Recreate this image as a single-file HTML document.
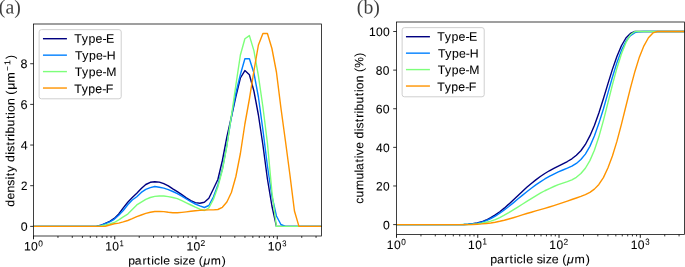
<!DOCTYPE html>
<html><head><meta charset="utf-8"><style>
html,body{margin:0;padding:0;background:#fff;overflow:hidden;}
svg{display:block;}
text{fill:#000;}
</style></head><body>
<svg width="685" height="267" viewBox="0 0 685 267">
<defs><clipPath id="ca"><rect x="33.5" y="24" width="288" height="212"/></clipPath><clipPath id="cb"><rect x="396.5" y="22" width="288" height="212.5"/></clipPath></defs>
<rect width="685" height="267" fill="#fff"/>
<line x1="33.50" y1="236.00" x2="33.50" y2="239.30" stroke="#000" stroke-width="0.90"/>
<line x1="57.96" y1="236.00" x2="57.96" y2="237.90" stroke="#000" stroke-width="0.80"/>
<line x1="72.27" y1="236.00" x2="72.27" y2="237.90" stroke="#000" stroke-width="0.80"/>
<line x1="82.42" y1="236.00" x2="82.42" y2="237.90" stroke="#000" stroke-width="0.80"/>
<line x1="90.30" y1="236.00" x2="90.30" y2="237.90" stroke="#000" stroke-width="0.80"/>
<line x1="96.73" y1="236.00" x2="96.73" y2="237.90" stroke="#000" stroke-width="0.80"/>
<line x1="102.17" y1="236.00" x2="102.17" y2="237.90" stroke="#000" stroke-width="0.80"/>
<line x1="106.89" y1="236.00" x2="106.89" y2="237.90" stroke="#000" stroke-width="0.80"/>
<line x1="111.04" y1="236.00" x2="111.04" y2="237.90" stroke="#000" stroke-width="0.80"/>
<line x1="114.76" y1="236.00" x2="114.76" y2="239.30" stroke="#000" stroke-width="0.90"/>
<line x1="139.23" y1="236.00" x2="139.23" y2="237.90" stroke="#000" stroke-width="0.80"/>
<line x1="153.53" y1="236.00" x2="153.53" y2="237.90" stroke="#000" stroke-width="0.80"/>
<line x1="163.69" y1="236.00" x2="163.69" y2="237.90" stroke="#000" stroke-width="0.80"/>
<line x1="171.56" y1="236.00" x2="171.56" y2="237.90" stroke="#000" stroke-width="0.80"/>
<line x1="178.00" y1="236.00" x2="178.00" y2="237.90" stroke="#000" stroke-width="0.80"/>
<line x1="183.44" y1="236.00" x2="183.44" y2="237.90" stroke="#000" stroke-width="0.80"/>
<line x1="188.15" y1="236.00" x2="188.15" y2="237.90" stroke="#000" stroke-width="0.80"/>
<line x1="192.31" y1="236.00" x2="192.31" y2="237.90" stroke="#000" stroke-width="0.80"/>
<line x1="196.03" y1="236.00" x2="196.03" y2="239.30" stroke="#000" stroke-width="0.90"/>
<line x1="220.49" y1="236.00" x2="220.49" y2="237.90" stroke="#000" stroke-width="0.80"/>
<line x1="234.80" y1="236.00" x2="234.80" y2="237.90" stroke="#000" stroke-width="0.80"/>
<line x1="244.95" y1="236.00" x2="244.95" y2="237.90" stroke="#000" stroke-width="0.80"/>
<line x1="252.83" y1="236.00" x2="252.83" y2="237.90" stroke="#000" stroke-width="0.80"/>
<line x1="259.26" y1="236.00" x2="259.26" y2="237.90" stroke="#000" stroke-width="0.80"/>
<line x1="264.70" y1="236.00" x2="264.70" y2="237.90" stroke="#000" stroke-width="0.80"/>
<line x1="269.41" y1="236.00" x2="269.41" y2="237.90" stroke="#000" stroke-width="0.80"/>
<line x1="273.57" y1="236.00" x2="273.57" y2="237.90" stroke="#000" stroke-width="0.80"/>
<line x1="277.29" y1="236.00" x2="277.29" y2="239.30" stroke="#000" stroke-width="0.90"/>
<line x1="301.75" y1="236.00" x2="301.75" y2="237.90" stroke="#000" stroke-width="0.80"/>
<line x1="316.06" y1="236.00" x2="316.06" y2="237.90" stroke="#000" stroke-width="0.80"/>
<line x1="30.20" y1="226.36" x2="33.50" y2="226.36" stroke="#000" stroke-width="0.80"/>
<line x1="30.20" y1="185.70" x2="33.50" y2="185.70" stroke="#000" stroke-width="0.80"/>
<line x1="30.20" y1="145.04" x2="33.50" y2="145.04" stroke="#000" stroke-width="0.80"/>
<line x1="30.20" y1="104.38" x2="33.50" y2="104.38" stroke="#000" stroke-width="0.80"/>
<line x1="30.20" y1="63.72" x2="33.50" y2="63.72" stroke="#000" stroke-width="0.80"/>
<line x1="396.50" y1="234.50" x2="396.50" y2="237.80" stroke="#000" stroke-width="0.90"/>
<line x1="420.96" y1="234.50" x2="420.96" y2="236.40" stroke="#000" stroke-width="0.80"/>
<line x1="435.27" y1="234.50" x2="435.27" y2="236.40" stroke="#000" stroke-width="0.80"/>
<line x1="445.42" y1="234.50" x2="445.42" y2="236.40" stroke="#000" stroke-width="0.80"/>
<line x1="453.30" y1="234.50" x2="453.30" y2="236.40" stroke="#000" stroke-width="0.80"/>
<line x1="459.73" y1="234.50" x2="459.73" y2="236.40" stroke="#000" stroke-width="0.80"/>
<line x1="465.17" y1="234.50" x2="465.17" y2="236.40" stroke="#000" stroke-width="0.80"/>
<line x1="469.89" y1="234.50" x2="469.89" y2="236.40" stroke="#000" stroke-width="0.80"/>
<line x1="474.04" y1="234.50" x2="474.04" y2="236.40" stroke="#000" stroke-width="0.80"/>
<line x1="477.76" y1="234.50" x2="477.76" y2="237.80" stroke="#000" stroke-width="0.90"/>
<line x1="502.23" y1="234.50" x2="502.23" y2="236.40" stroke="#000" stroke-width="0.80"/>
<line x1="516.53" y1="234.50" x2="516.53" y2="236.40" stroke="#000" stroke-width="0.80"/>
<line x1="526.69" y1="234.50" x2="526.69" y2="236.40" stroke="#000" stroke-width="0.80"/>
<line x1="534.56" y1="234.50" x2="534.56" y2="236.40" stroke="#000" stroke-width="0.80"/>
<line x1="541.00" y1="234.50" x2="541.00" y2="236.40" stroke="#000" stroke-width="0.80"/>
<line x1="546.44" y1="234.50" x2="546.44" y2="236.40" stroke="#000" stroke-width="0.80"/>
<line x1="551.15" y1="234.50" x2="551.15" y2="236.40" stroke="#000" stroke-width="0.80"/>
<line x1="555.31" y1="234.50" x2="555.31" y2="236.40" stroke="#000" stroke-width="0.80"/>
<line x1="559.03" y1="234.50" x2="559.03" y2="237.80" stroke="#000" stroke-width="0.90"/>
<line x1="583.49" y1="234.50" x2="583.49" y2="236.40" stroke="#000" stroke-width="0.80"/>
<line x1="597.80" y1="234.50" x2="597.80" y2="236.40" stroke="#000" stroke-width="0.80"/>
<line x1="607.95" y1="234.50" x2="607.95" y2="236.40" stroke="#000" stroke-width="0.80"/>
<line x1="615.83" y1="234.50" x2="615.83" y2="236.40" stroke="#000" stroke-width="0.80"/>
<line x1="622.26" y1="234.50" x2="622.26" y2="236.40" stroke="#000" stroke-width="0.80"/>
<line x1="627.70" y1="234.50" x2="627.70" y2="236.40" stroke="#000" stroke-width="0.80"/>
<line x1="632.41" y1="234.50" x2="632.41" y2="236.40" stroke="#000" stroke-width="0.80"/>
<line x1="636.57" y1="234.50" x2="636.57" y2="236.40" stroke="#000" stroke-width="0.80"/>
<line x1="640.29" y1="234.50" x2="640.29" y2="237.80" stroke="#000" stroke-width="0.90"/>
<line x1="664.75" y1="234.50" x2="664.75" y2="236.40" stroke="#000" stroke-width="0.80"/>
<line x1="679.06" y1="234.50" x2="679.06" y2="236.40" stroke="#000" stroke-width="0.80"/>
<line x1="393.20" y1="224.60" x2="396.50" y2="224.60" stroke="#000" stroke-width="0.80"/>
<line x1="393.20" y1="185.98" x2="396.50" y2="185.98" stroke="#000" stroke-width="0.80"/>
<line x1="393.20" y1="147.36" x2="396.50" y2="147.36" stroke="#000" stroke-width="0.80"/>
<line x1="393.20" y1="108.74" x2="396.50" y2="108.74" stroke="#000" stroke-width="0.80"/>
<line x1="393.20" y1="70.12" x2="396.50" y2="70.12" stroke="#000" stroke-width="0.80"/>
<line x1="393.20" y1="31.50" x2="396.50" y2="31.50" stroke="#000" stroke-width="0.80"/>
<g clip-path="url(#ca)">
<path d="M20.00,226.36 L96.23,226.36 L100.73,225.30 L105.24,223.30 L109.74,221.40 L114.25,218.40 L118.75,214.00 L123.26,207.90 L127.76,202.30 L132.27,197.50 L136.78,193.20 L141.28,188.50 L145.78,184.50 L150.29,182.30 L154.79,181.70 L159.30,182.10 L163.80,183.70 L168.31,185.80 L172.81,188.80 L177.32,191.60 L181.82,194.70 L186.33,197.80 L190.84,200.60 L195.34,202.60 L199.84,203.20 L204.35,202.30 L208.85,198.30 L213.36,189.00 L217.86,179.50 L222.37,160.50 L226.87,137.00 L231.38,117.00 L235.88,96.50 L240.39,78.00 L244.89,70.60 L249.40,74.70 L253.91,91.00 L258.41,115.00 L262.91,145.00 L267.42,179.00 L271.92,206.00 L276.43,226.36 L330.00,226.36" fill="none" stroke="#000080" stroke-width="1.41" stroke-linejoin="round"/>
<path d="M20.00,226.36 L96.23,226.36 L100.73,225.40 L105.24,223.60 L109.74,221.90 L114.25,219.30 L118.75,215.30 L123.26,210.50 L127.76,204.70 L132.27,200.00 L136.78,196.70 L141.28,192.40 L145.78,189.40 L150.29,187.60 L154.79,186.50 L159.30,187.30 L163.80,188.10 L168.31,189.60 L172.81,191.50 L177.32,193.60 L181.82,196.20 L186.33,199.00 L190.84,201.70 L195.34,204.00 L199.84,205.90 L204.35,207.50 L208.85,205.50 L213.36,197.00 L217.86,185.00 L222.37,169.00 L226.87,145.00 L231.38,117.00 L235.88,93.00 L240.39,74.50 L244.89,58.80 L249.40,58.80 L253.91,73.00 L258.41,97.00 L262.91,130.00 L267.42,166.00 L271.92,196.00 L276.43,216.00 L280.93,224.50 L285.44,226.36 L330.00,226.36" fill="none" stroke="#0080ff" stroke-width="1.41" stroke-linejoin="round"/>
<path d="M20.00,226.36 L96.23,226.36 L100.73,225.90 L105.24,225.00 L109.74,223.90 L114.25,222.50 L118.75,219.80 L123.26,216.80 L127.76,214.10 L132.27,209.50 L136.78,204.90 L141.28,202.10 L145.78,199.30 L150.29,197.50 L154.79,196.40 L159.30,196.00 L163.80,196.00 L168.31,196.60 L172.81,197.50 L177.32,198.60 L181.82,200.70 L186.33,202.90 L190.84,205.00 L195.34,207.20 L199.84,209.20 L204.35,210.50 L208.85,208.00 L213.36,199.50 L217.86,187.00 L222.37,170.00 L226.87,146.00 L231.38,116.00 L235.88,85.00 L240.39,55.00 L244.89,38.80 L249.40,35.60 L253.91,50.60 L258.41,75.80 L262.91,107.00 L267.42,143.00 L271.92,192.00 L276.43,226.36 L330.00,226.36" fill="none" stroke="#7dff7a" stroke-width="1.41" stroke-linejoin="round"/>
<path d="M20.00,226.36 L100.73,226.36 L105.24,226.20 L109.74,225.00 L114.25,223.80 L118.75,223.10 L123.26,221.90 L127.76,220.50 L132.27,218.70 L136.78,216.70 L141.28,215.00 L145.78,213.40 L150.29,212.30 L154.79,211.50 L159.30,211.40 L163.80,211.60 L168.31,212.30 L172.81,212.70 L177.32,212.80 L181.82,212.40 L186.33,211.90 L190.84,211.30 L195.34,210.80 L199.84,210.40 L204.35,210.10 L208.85,209.90 L213.36,209.90 L217.86,209.50 L222.37,207.30 L226.87,202.00 L231.38,192.50 L235.88,176.50 L240.39,153.50 L244.89,124.00 L249.40,99.00 L253.91,71.00 L258.41,45.00 L262.91,33.50 L267.42,33.50 L271.92,48.50 L276.43,72.00 L280.93,108.00 L285.44,141.00 L289.94,175.00 L294.45,211.00 L298.95,226.36 L330.00,226.36" fill="none" stroke="#ff9400" stroke-width="1.41" stroke-linejoin="round"/>
</g>
<g clip-path="url(#cb)">
<path d="M380.00,224.60 L459.23,224.60 L463.74,224.50 L468.24,224.21 L472.75,223.73 L477.25,222.97 L481.75,221.79 L486.26,220.02 L490.76,217.72 L495.27,214.95 L499.77,211.78 L504.28,208.16 L508.78,204.15 L513.29,199.93 L517.79,195.66 L522.30,191.42 L526.80,187.34 L531.31,183.46 L535.81,179.86 L540.32,176.53 L544.82,173.50 L549.33,170.77 L553.84,168.30 L558.34,166.03 L562.85,163.81 L567.35,161.51 L571.86,158.82 L576.36,155.25 L580.87,150.76 L585.37,144.46 L589.88,135.91 L594.38,125.44 L598.88,113.01 L603.39,98.81 L607.89,83.90 L612.40,69.38 L616.90,56.43 L621.41,45.77 L625.91,37.98 L630.42,33.45 L634.92,31.50 L639.43,31.50 L700.00,31.50" fill="none" stroke="#000080" stroke-width="1.41" stroke-linejoin="round"/>
<path d="M380.00,224.60 L459.23,224.60 L463.74,224.51 L468.24,224.25 L472.75,223.82 L477.25,223.16 L481.75,222.11 L486.26,220.60 L490.76,218.55 L495.27,216.05 L499.77,213.24 L504.28,210.02 L508.78,206.52 L513.29,202.84 L517.79,199.06 L522.30,195.36 L526.80,191.73 L531.31,188.25 L535.81,184.94 L540.32,181.84 L544.82,178.98 L549.33,176.39 L553.84,174.05 L558.34,171.93 L562.85,169.99 L567.35,168.20 L571.86,166.22 L576.36,163.44 L580.87,159.52 L585.37,154.08 L589.88,146.37 L594.38,136.00 L598.88,123.36 L603.39,108.96 L607.89,93.08 L612.40,77.19 L616.90,62.66 L621.41,50.39 L625.91,41.26 L630.42,35.54 L634.92,32.66 L639.43,31.68 L643.93,31.50 L648.44,31.50 L700.00,31.50" fill="none" stroke="#0080ff" stroke-width="1.41" stroke-linejoin="round"/>
<path d="M380.00,224.60 L459.23,224.60 L463.74,224.56 L468.24,224.43 L472.75,224.20 L477.25,223.83 L481.75,223.21 L486.26,222.30 L490.76,221.14 L495.27,219.55 L499.77,217.52 L504.28,215.22 L508.78,212.66 L513.29,209.93 L517.79,207.10 L522.30,204.22 L526.80,201.35 L531.31,198.54 L535.81,195.81 L540.32,193.18 L544.82,190.75 L549.33,188.53 L553.84,186.51 L558.34,184.70 L562.85,183.07 L567.35,181.57 L571.86,179.84 L576.36,177.29 L580.87,173.57 L585.37,168.24 L589.88,160.63 L594.38,150.19 L598.88,136.82 L603.39,120.60 L607.89,102.86 L612.40,84.81 L616.90,68.18 L621.41,53.93 L625.91,42.64 L630.42,34.75 L634.92,31.50 L639.43,31.50 L700.00,31.50" fill="none" stroke="#7dff7a" stroke-width="1.41" stroke-linejoin="round"/>
<path d="M380.00,224.60 L463.74,224.60 L468.24,224.58 L472.75,224.46 L477.25,224.22 L481.75,223.91 L486.26,223.49 L490.76,222.94 L495.27,222.22 L499.77,221.31 L504.28,220.25 L508.78,219.03 L513.29,217.71 L517.79,216.31 L522.30,214.90 L526.80,213.52 L531.31,212.20 L535.81,210.91 L540.32,209.64 L544.82,208.33 L549.33,206.97 L553.84,205.55 L558.34,204.09 L562.85,202.59 L567.35,201.06 L571.86,199.52 L576.36,197.97 L580.87,196.39 L585.37,194.60 L589.88,192.31 L594.38,189.13 L598.88,184.44 L603.39,177.59 L607.89,167.98 L612.40,156.01 L616.90,141.41 L621.41,124.37 L625.91,106.25 L630.42,88.13 L634.92,71.42 L639.43,56.91 L643.93,45.79 L648.44,37.77 L652.94,32.94 L657.45,31.50 L661.95,31.50 L700.00,31.50" fill="none" stroke="#ff9400" stroke-width="1.41" stroke-linejoin="round"/>
</g>
<rect x="33.50" y="24.00" width="288.00" height="212.00" fill="none" stroke="#000" stroke-width="0.75"/>
<rect x="396.50" y="22.00" width="288.00" height="212.50" fill="none" stroke="#000" stroke-width="0.75"/>
<rect x="39.14" y="29.64" width="82.08" height="69.15" rx="2.26" fill="#fff" fill-opacity="0.8" stroke="#cccccc" stroke-width="0.94"/>
<line x1="43.66" y1="38.71" x2="66.22" y2="38.71" stroke="#000080" stroke-width="1.41" stroke-linecap="square"/>
<line x1="43.66" y1="55.15" x2="66.22" y2="55.15" stroke="#0080ff" stroke-width="1.41" stroke-linecap="square"/>
<line x1="43.66" y1="71.59" x2="66.22" y2="71.59" stroke="#7dff7a" stroke-width="1.41" stroke-linecap="square"/>
<line x1="43.66" y1="88.03" x2="66.22" y2="88.03" stroke="#ff9400" stroke-width="1.41" stroke-linecap="square"/>
<rect x="402.14" y="27.64" width="82.08" height="69.15" rx="2.26" fill="#fff" fill-opacity="0.8" stroke="#cccccc" stroke-width="0.94"/>
<line x1="406.65" y1="36.71" x2="429.22" y2="36.71" stroke="#000080" stroke-width="1.41" stroke-linecap="square"/>
<line x1="406.65" y1="53.15" x2="429.22" y2="53.15" stroke="#0080ff" stroke-width="1.41" stroke-linecap="square"/>
<line x1="406.65" y1="69.59" x2="429.22" y2="69.59" stroke="#7dff7a" stroke-width="1.41" stroke-linecap="square"/>
<line x1="406.65" y1="86.03" x2="429.22" y2="86.03" stroke="#ff9400" stroke-width="1.41" stroke-linecap="square"/>
<g style="filter:grayscale(1)" transform="translate(20.500,230.655) scale(1.0053,0.9859) skewY(0.03)"><text x="0" y="0" style="font-family:'Liberation Sans',sans-serif;stroke:#000;stroke-width:0.08px;font-size:12.30px"><tspan x="0.17" y="0.00">0</tspan></text></g>
<g style="filter:grayscale(1)" transform="translate(20.934,190.073) scale(0.9362,0.9899) skewY(0.03)"><text x="0" y="0" style="font-family:'Liberation Sans',sans-serif;stroke:#000;stroke-width:0.08px;font-size:12.30px"><tspan x="0.02" y="0.00">2</tspan></text></g>
<g style="filter:grayscale(1)" transform="translate(20.523,149.428) scale(1.0062,0.9886) skewY(0.03)"><text x="0" y="0" style="font-family:'Liberation Sans',sans-serif;stroke:#000;stroke-width:0.08px;font-size:12.30px"><tspan x="0.17" y="0.00">4</tspan></text></g>
<g style="filter:grayscale(1)" transform="translate(20.428,108.880) scale(1.0392,1.0313) skewY(0.03)"><text x="0" y="0" style="font-family:'Liberation Sans',sans-serif;stroke:#000;stroke-width:0.08px;font-size:12.30px"><tspan x="0.17" y="0.00">6</tspan></text></g>
<g style="filter:grayscale(1)" transform="translate(20.404,68.119) scale(1.0153,1.0019) skewY(0.03)"><text x="0" y="0" style="font-family:'Liberation Sans',sans-serif;stroke:#000;stroke-width:0.08px;font-size:12.30px"><tspan x="0.17" y="0.00">8</tspan></text></g>
<g style="filter:grayscale(1)" transform="translate(382.774,229.145) scale(0.9919,0.9906) skewY(0.03)"><text x="0" y="0" style="font-family:'Liberation Sans',sans-serif;stroke:#000;stroke-width:0.08px;font-size:12.30px"><tspan x="0.17" y="0.00">0</tspan></text></g>
<g style="filter:grayscale(1)" transform="translate(375.981,190.509) scale(0.9700,0.9916) skewY(0.03)"><text x="0" y="0" style="font-family:'Liberation Sans',sans-serif;stroke:#000;stroke-width:0.08px;font-size:12.30px"><tspan x="0.02" y="0.00">2</tspan><tspan x="7.34" y="0.00">0</tspan></text></g>
<g style="filter:grayscale(1)" transform="translate(375.796,151.990) scale(0.9734,0.9893) skewY(0.03)"><text x="0" y="0" style="font-family:'Liberation Sans',sans-serif;stroke:#000;stroke-width:0.08px;font-size:12.30px"><tspan x="0.17" y="0.00">4</tspan><tspan x="7.34" y="0.00">0</tspan></text></g>
<g style="filter:grayscale(1)" transform="translate(375.553,113.212) scale(0.9980,0.9928) skewY(0.03)"><text x="0" y="0" style="font-family:'Liberation Sans',sans-serif;stroke:#000;stroke-width:0.08px;font-size:12.30px"><tspan x="0.17" y="0.00">6</tspan><tspan x="7.34" y="0.00">0</tspan></text></g>
<g style="filter:grayscale(1)" transform="translate(375.682,74.661) scale(0.9750,1.0022) skewY(0.03)"><text x="0" y="0" style="font-family:'Liberation Sans',sans-serif;stroke:#000;stroke-width:0.08px;font-size:12.30px"><tspan x="0.17" y="0.00">8</tspan><tspan x="7.34" y="0.00">0</tspan></text></g>
<g style="filter:grayscale(1)" transform="translate(368.795,36.061) scale(0.9820,0.9935) skewY(0.03)"><text x="0" y="0" style="font-family:'Liberation Sans',sans-serif;stroke:#000;stroke-width:0.08px;font-size:12.30px"><tspan x="0.10" y="0.00">1</tspan><tspan x="7.34" y="0.00">0</tspan><tspan x="14.52" y="0.00">0</tspan></text></g>
<g style="filter:grayscale(1)" transform="translate(23.818,250.544) scale(0.9886,0.9951) skewY(0.03)"><text x="0" y="0" style="font-family:'Liberation Sans',sans-serif;stroke:#000;stroke-width:0.08px;font-size:12.30px"><tspan x="0.10" y="0.00">1</tspan><tspan x="7.34" y="0.00">0</tspan></text></g>
<g style="filter:grayscale(1)" transform="translate(38.159,246.412) scale(0.9701,0.9843) skewY(0.03)"><text x="0" y="0" style="font-family:'Liberation Sans',sans-serif;stroke:#000;stroke-width:0.08px;font-size:8.61px">0</text></g>
<g style="filter:grayscale(1)" transform="translate(105.158,250.453) scale(0.9788,1.0058) skewY(0.03)"><text x="0" y="0" style="font-family:'Liberation Sans',sans-serif;stroke:#000;stroke-width:0.08px;font-size:12.30px"><tspan x="0.10" y="0.00">1</tspan><tspan x="7.34" y="0.00">0</tspan></text></g>
<g style="filter:grayscale(1)" transform="translate(119.757,246.168) scale(0.8030,0.9892) skewY(0.03)"><text x="0" y="0" style="font-family:'Liberation Sans',sans-serif;stroke:#000;stroke-width:0.08px;font-size:8.61px">1</text></g>
<g style="filter:grayscale(1)" transform="translate(186.359,250.470) scale(0.9833,0.9919) skewY(0.03)"><text x="0" y="0" style="font-family:'Liberation Sans',sans-serif;stroke:#000;stroke-width:0.08px;font-size:12.30px"><tspan x="0.10" y="0.00">1</tspan><tspan x="7.34" y="0.00">0</tspan></text></g>
<g style="filter:grayscale(1)" transform="translate(200.578,246.061) scale(0.9871,0.9901) skewY(0.03)"><text x="0" y="0" style="font-family:'Liberation Sans',sans-serif;stroke:#000;stroke-width:0.08px;font-size:8.61px">2</text></g>
<g style="filter:grayscale(1)" transform="translate(267.579,250.592) scale(0.9901,0.9919) skewY(0.03)"><text x="0" y="0" style="font-family:'Liberation Sans',sans-serif;stroke:#000;stroke-width:0.08px;font-size:12.30px"><tspan x="0.10" y="0.00">1</tspan><tspan x="7.34" y="0.00">0</tspan></text></g>
<g style="filter:grayscale(1)" transform="translate(282.352,246.220) scale(0.8814,0.9782) skewY(0.03)"><text x="0" y="0" style="font-family:'Liberation Sans',sans-serif;stroke:#000;stroke-width:0.08px;font-size:8.61px">3</text></g>
<g style="filter:grayscale(1)" transform="translate(386.718,248.928) scale(0.9855,0.9967) skewY(0.03)"><text x="0" y="0" style="font-family:'Liberation Sans',sans-serif;stroke:#000;stroke-width:0.08px;font-size:12.30px"><tspan x="0.10" y="0.00">1</tspan><tspan x="7.34" y="0.00">0</tspan></text></g>
<g style="filter:grayscale(1)" transform="translate(401.208,245.078) scale(0.9547,1.0412) skewY(0.03)"><text x="0" y="0" style="font-family:'Liberation Sans',sans-serif;stroke:#000;stroke-width:0.08px;font-size:8.61px">0</text></g>
<g style="filter:grayscale(1)" transform="translate(468.002,249.116) scale(0.9746,0.9896) skewY(0.03)"><text x="0" y="0" style="font-family:'Liberation Sans',sans-serif;stroke:#000;stroke-width:0.08px;font-size:12.30px"><tspan x="0.10" y="0.00">1</tspan><tspan x="7.34" y="0.00">0</tspan></text></g>
<g style="filter:grayscale(1)" transform="translate(482.521,244.556) scale(0.9174,1.0540) skewY(0.03)"><text x="0" y="0" style="font-family:'Liberation Sans',sans-serif;stroke:#000;stroke-width:0.08px;font-size:8.61px">1</text></g>
<g style="filter:grayscale(1)" transform="translate(549.282,249.051) scale(0.9769,1.0064) skewY(0.03)"><text x="0" y="0" style="font-family:'Liberation Sans',sans-serif;stroke:#000;stroke-width:0.08px;font-size:12.30px"><tspan x="0.10" y="0.00">1</tspan><tspan x="7.34" y="0.00">0</tspan></text></g>
<g style="filter:grayscale(1)" transform="translate(563.541,244.683) scale(0.9789,0.9857) skewY(0.03)"><text x="0" y="0" style="font-family:'Liberation Sans',sans-serif;stroke:#000;stroke-width:0.08px;font-size:8.61px">2</text></g>
<g style="filter:grayscale(1)" transform="translate(630.557,249.101) scale(0.9864,1.0048) skewY(0.03)"><text x="0" y="0" style="font-family:'Liberation Sans',sans-serif;stroke:#000;stroke-width:0.08px;font-size:12.30px"><tspan x="0.10" y="0.00">1</tspan><tspan x="7.34" y="0.00">0</tspan></text></g>
<g style="filter:grayscale(1)" transform="translate(645.198,244.810) scale(0.9103,1.0241) skewY(0.03)"><text x="0" y="0" style="font-family:'Liberation Sans',sans-serif;stroke:#000;stroke-width:0.08px;font-size:8.61px">3</text></g>
<g style="filter:grayscale(1)" transform="translate(128.028,264.419) scale(0.9900,0.9281) skewY(0.03)"><text x="0" y="0" style="font-family:'Liberation Sans',sans-serif;stroke:#000;stroke-width:0.08px;font-size:12.30px"><tspan x="0.23" y="0.00">p</tspan><tspan x="6.76" y="0.00">a</tspan><tspan x="14.55" y="0.00">r</tspan><tspan x="19.19" y="0.00">t</tspan><tspan x="23.35" y="0.00">i</tspan><tspan x="26.16" y="0.00">c</tspan><tspan x="32.68" y="0.00">l</tspan><tspan x="35.69" y="0.00">e</tspan><tspan x="42.64" y="0.00"> </tspan><tspan x="46.09" y="0.00">s</tspan><tspan x="52.23" y="0.00">i</tspan><tspan x="55.10" y="0.00">z</tspan><tspan x="61.15" y="0.00">e</tspan><tspan x="68.10" y="0.00"> </tspan><tspan x="71.44" y="0.00">(</tspan><tspan x="76.13" y="0.00" style="font-style:italic;">μ</tspan><tspan x="83.59" y="0.00">m</tspan><tspan x="94.64" y="0.00">)</tspan></text></g>
<g style="filter:grayscale(1)" transform="translate(490.102,263.205) scale(1.0101,0.9758) skewY(0.03)"><text x="0" y="0" style="font-family:'Liberation Sans',sans-serif;stroke:#000;stroke-width:0.08px;font-size:12.30px"><tspan x="0.23" y="0.00">p</tspan><tspan x="6.76" y="0.00">a</tspan><tspan x="14.55" y="0.00">r</tspan><tspan x="19.19" y="0.00">t</tspan><tspan x="23.35" y="0.00">i</tspan><tspan x="26.16" y="0.00">c</tspan><tspan x="32.68" y="0.00">l</tspan><tspan x="35.69" y="0.00">e</tspan><tspan x="42.64" y="0.00"> </tspan><tspan x="46.09" y="0.00">s</tspan><tspan x="52.23" y="0.00">i</tspan><tspan x="55.10" y="0.00">z</tspan><tspan x="61.15" y="0.00">e</tspan><tspan x="68.10" y="0.00"> </tspan><tspan x="71.44" y="0.00">(</tspan><tspan x="76.13" y="0.00" style="font-style:italic;">μ</tspan><tspan x="83.59" y="0.00">m</tspan><tspan x="94.64" y="0.00">)</tspan></text></g>
<g style="filter:grayscale(1)" transform="translate(14.331,206.819) rotate(-90) scale(0.9957,0.9787) skewY(0.03)"><text x="0" y="0" style="font-family:'Liberation Sans',sans-serif;stroke:#000;stroke-width:0.08px;font-size:12.30px"><tspan x="0.10" y="0.00">d</tspan><tspan x="7.24" y="0.00">e</tspan><tspan x="14.28" y="0.00">n</tspan><tspan x="21.20" y="0.00">s</tspan><tspan x="27.34" y="0.00">i</tspan><tspan x="30.74" y="0.00">t</tspan><tspan x="34.95" y="0.00">y</tspan><tspan x="41.45" y="0.00"> </tspan><tspan x="45.05" y="0.00">d</tspan><tspan x="52.32" y="0.00">i</tspan><tspan x="55.20" y="0.00">s</tspan><tspan x="61.60" y="0.00">t</tspan><tspan x="66.03" y="0.00">r</tspan><tspan x="70.40" y="0.00">i</tspan><tspan x="73.55" y="0.00">b</tspan><tspan x="80.62" y="0.00">u</tspan><tspan x="88.11" y="0.00">t</tspan><tspan x="92.27" y="0.00">i</tspan><tspan x="95.23" y="0.00">o</tspan><tspan x="102.28" y="0.00">n</tspan><tspan x="109.34" y="0.00"> </tspan><tspan x="112.68" y="0.00">(</tspan><tspan x="117.67" y="0.00">μ</tspan><tspan x="124.82" y="0.00">m</tspan><tspan x="136.51" y="-4.30" style="font-size:8.61px;">−</tspan><tspan x="142.40" y="-4.30" style="font-size:8.61px;">1</tspan><tspan x="148.42" y="0.00">)</tspan></text></g>
<g style="filter:grayscale(1)" transform="translate(363.166,203.590) rotate(-90) scale(0.9810,0.9873) skewY(0.03)"><text x="0" y="0" style="font-family:'Liberation Sans',sans-serif;stroke:#000;stroke-width:0.08px;font-size:12.30px"><tspan x="-0.11" y="0.00">c</tspan><tspan x="6.33" y="0.00">u</tspan><tspan x="13.76" y="0.00">m</tspan><tspan x="24.48" y="0.00">u</tspan><tspan x="31.70" y="0.00">l</tspan><tspan x="34.23" y="0.00">a</tspan><tspan x="42.02" y="0.00">t</tspan><tspan x="46.18" y="0.00">i</tspan><tspan x="49.37" y="0.00">v</tspan><tspan x="55.85" y="0.00">e</tspan><tspan x="62.81" y="0.00"> </tspan><tspan x="66.41" y="0.00">d</tspan><tspan x="73.68" y="0.00">i</tspan><tspan x="76.55" y="0.00">s</tspan><tspan x="82.96" y="0.00">t</tspan><tspan x="87.39" y="0.00">r</tspan><tspan x="91.75" y="0.00">i</tspan><tspan x="94.91" y="0.00">b</tspan><tspan x="101.98" y="0.00">u</tspan><tspan x="109.47" y="0.00">t</tspan><tspan x="113.63" y="0.00">i</tspan><tspan x="116.59" y="0.00">o</tspan><tspan x="123.64" y="0.00">n</tspan><tspan x="130.69" y="0.00"> </tspan><tspan x="134.04" y="0.00">(</tspan><tspan x="138.49" y="0.00">%</tspan><tspan x="149.78" y="0.00">)</tspan></text></g>
<g style="filter:grayscale(1)" transform="translate(74.567,42.638) scale(1.0061,0.9985) skewY(0.03)"><text x="0" y="0" style="font-family:'Liberation Sans',sans-serif;stroke:#000;stroke-width:0.08px;font-size:12.30px"><tspan x="-0.31" y="0.00">T</tspan><tspan x="7.15" y="0.00">y</tspan><tspan x="13.80" y="0.00">p</tspan><tspan x="20.80" y="0.00">e</tspan><tspan x="27.66" y="0.00">-</tspan><tspan x="31.16" y="0.00">E</tspan></text></g>
<g style="filter:grayscale(1)" transform="translate(75.198,59.410) scale(1.0000,0.9852) skewY(0.03)"><text x="0" y="0" style="font-family:'Liberation Sans',sans-serif;stroke:#000;stroke-width:0.08px;font-size:12.30px"><tspan x="-0.31" y="0.00">T</tspan><tspan x="7.15" y="0.00">y</tspan><tspan x="13.80" y="0.00">p</tspan><tspan x="20.80" y="0.00">e</tspan><tspan x="27.66" y="0.00">-</tspan><tspan x="31.54" y="0.00">H</tspan></text></g>
<g style="filter:grayscale(1)" transform="translate(75.002,75.983) scale(0.9930,0.9876) skewY(0.03)"><text x="0" y="0" style="font-family:'Liberation Sans',sans-serif;stroke:#000;stroke-width:0.08px;font-size:12.30px"><tspan x="-0.31" y="0.00">T</tspan><tspan x="7.15" y="0.00">y</tspan><tspan x="13.80" y="0.00">p</tspan><tspan x="20.80" y="0.00">e</tspan><tspan x="27.66" y="0.00">-</tspan><tspan x="31.49" y="0.00">M</tspan></text></g>
<g style="filter:grayscale(1)" transform="translate(74.525,92.894) scale(1.0021,1.0117) skewY(0.03)"><text x="0" y="0" style="font-family:'Liberation Sans',sans-serif;stroke:#000;stroke-width:0.08px;font-size:12.30px"><tspan x="-0.31" y="0.00">T</tspan><tspan x="7.15" y="0.00">y</tspan><tspan x="13.80" y="0.00">p</tspan><tspan x="20.80" y="0.00">e</tspan><tspan x="27.66" y="0.00">-</tspan><tspan x="31.20" y="0.00">F</tspan></text></g>
<g style="filter:grayscale(1)" transform="translate(437.567,40.638) scale(1.0061,0.9985) skewY(0.03)"><text x="0" y="0" style="font-family:'Liberation Sans',sans-serif;stroke:#000;stroke-width:0.08px;font-size:12.30px"><tspan x="-0.31" y="0.00">T</tspan><tspan x="7.15" y="0.00">y</tspan><tspan x="13.80" y="0.00">p</tspan><tspan x="20.80" y="0.00">e</tspan><tspan x="27.66" y="0.00">-</tspan><tspan x="31.16" y="0.00">E</tspan></text></g>
<g style="filter:grayscale(1)" transform="translate(438.198,57.410) scale(1.0000,0.9852) skewY(0.03)"><text x="0" y="0" style="font-family:'Liberation Sans',sans-serif;stroke:#000;stroke-width:0.08px;font-size:12.30px"><tspan x="-0.31" y="0.00">T</tspan><tspan x="7.15" y="0.00">y</tspan><tspan x="13.80" y="0.00">p</tspan><tspan x="20.80" y="0.00">e</tspan><tspan x="27.66" y="0.00">-</tspan><tspan x="31.54" y="0.00">H</tspan></text></g>
<g style="filter:grayscale(1)" transform="translate(438.002,73.983) scale(0.9930,0.9876) skewY(0.03)"><text x="0" y="0" style="font-family:'Liberation Sans',sans-serif;stroke:#000;stroke-width:0.08px;font-size:12.30px"><tspan x="-0.31" y="0.00">T</tspan><tspan x="7.15" y="0.00">y</tspan><tspan x="13.80" y="0.00">p</tspan><tspan x="20.80" y="0.00">e</tspan><tspan x="27.66" y="0.00">-</tspan><tspan x="31.49" y="0.00">M</tspan></text></g>
<g style="filter:grayscale(1)" transform="translate(437.525,90.894) scale(1.0021,1.0117) skewY(0.03)"><text x="0" y="0" style="font-family:'Liberation Sans',sans-serif;stroke:#000;stroke-width:0.08px;font-size:12.30px"><tspan x="-0.31" y="0.00">T</tspan><tspan x="7.15" y="0.00">y</tspan><tspan x="13.80" y="0.00">p</tspan><tspan x="20.80" y="0.00">e</tspan><tspan x="27.66" y="0.00">-</tspan><tspan x="31.20" y="0.00">F</tspan></text></g>
<g style="filter:grayscale(1)" transform="translate(-1.139,13.618) scale(1.0385,1.0451) skewY(0.03)"><text x="0" y="0" style="font-family:'Liberation Serif',serif;fill-opacity:0.76;font-size:19.00px">(a)</text></g>
<g style="filter:grayscale(1)" transform="translate(356.861,13.618) scale(1.0385,1.0451) skewY(0.03)"><text x="0" y="0" style="font-family:'Liberation Serif',serif;fill-opacity:0.76;font-size:19.00px">(b)</text></g>
</svg>
</body></html>
